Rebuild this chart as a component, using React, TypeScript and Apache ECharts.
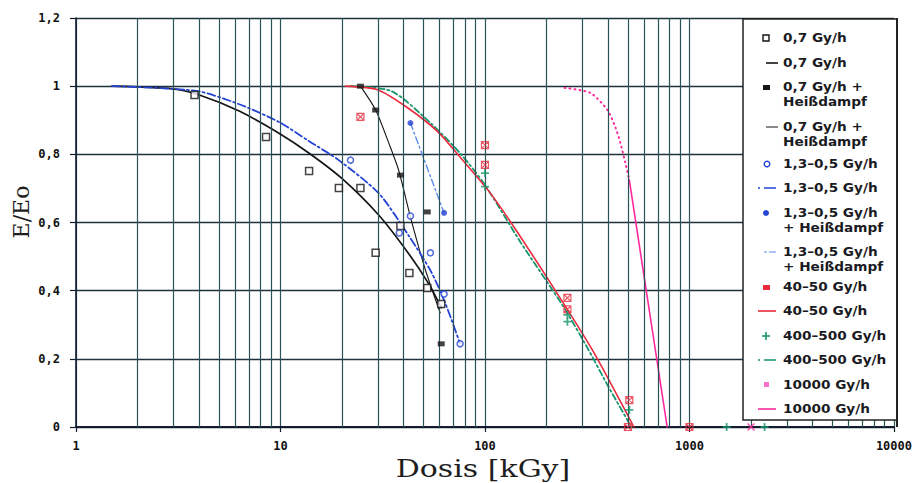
import React, { useEffect, useRef } from 'react';
import * as echarts from 'echarts';

// ---- tick labels ----
const decadeLabels = ['1', '10', '100', '1000', '10000'];
const yTickLabels = ['0', '0,2', '0,4', '0,6', '0,8', '1', '1,2'];

// ---- data: [dose kGy, E/Eo] ----
const rate07Points = [[3.8, 0.974], [8.5, 0.851], [13.8, 0.751], [19.3, 0.701], [24.6, 0.701], [29.2, 0.511], [38.6, 0.59], [42.7, 0.452], [52.2, 0.408], [61.1, 0.361]];
const rate07Fit = [[1.5, 1], [2.97, 0.992], [4.01, 0.974], [6.28, 0.927], [9.83, 0.862], [13.76, 0.804], [19.9, 0.73], [30.2, 0.622], [42.2, 0.51], [52.8, 0.422], [61.1, 0.35]];
const rate07SteamPoints = [[24.6, 1], [29.2, 0.93], [38.6, 0.739], [52.2, 0.631], [61.1, 0.244]];
const rate07SteamFit = [[24.6, 1], [29.2, 0.93], [34, 0.83], [37.8, 0.754], [43.6, 0.607], [51.2, 0.46], [60.4, 0.335]];
const rate13Points = [[22, 0.783], [38.1, 0.569], [43.2, 0.619], [54.1, 0.511], [63.1, 0.39], [75.6, 0.244]];
const rate13Fit = [[1.5, 1], [3.88, 0.986], [6.28, 0.947], [9.83, 0.895], [13.76, 0.839], [19.26, 0.783], [30.2, 0.686], [42.2, 0.563], [54.6, 0.455], [63.9, 0.364], [75.6, 0.244]];
const rate13SteamPoints = [[43.2, 0.892], [63.1, 0.628]];
const rate13SteamFit = [[43.2, 0.892], [63.1, 0.628]];
const rate40Points = [[24.6, 0.91], [100, 0.827], [100, 0.769], [253, 0.379], [253, 0.345], [508, 0.079], [500, 0], [1000, 0]];
const rate40Fit = [[20.8, 1], [30, 0.989], [42, 0.936], [58.9, 0.866], [75.5, 0.792], [103.5, 0.695], [134, 0.6], [221, 0.4], [335, 0.226], [535, 0]];
const rate400Points = [[100, 0.745], [100, 0.705], [253, 0.329], [253, 0.309], [508, 0.05], [1520, 0], [2330, 0]];
const rate400Fit = [[22, 1], [35, 0.985], [54.6, 0.89], [76.4, 0.8], [100, 0.71], [150, 0.54], [239, 0.358], [317, 0.232], [400, 0.12], [520, 0]];
const rate10000Points = [[2000, 0]];
const rate10000Curve = [[245, 0.995], [328, 0.98], [397, 0.93], [434, 0.88], [458, 0.836], [486, 0.775], [508, 0.725]];
const rate10000Fit = [[508, 0.725], [778, 0]];

const BLACK = '#151515';
const BLUE = '#2444d4';
const LIGHTBLUE = '#5b8ee8';
const RED = '#ea2a3c';
const GREEN = '#17946c';
const PINK = '#ff2a9e';
const VGRID = '#2a5356';
const HGRID = '#1c303e';

const boxX = 'path://M0,0L8,0L8,8L0,8Z M0,0L8,8 M8,0L0,8';
const plusPath = 'path://M4,0L4,8 M0,4L8,4';
const crossPath = 'path://M0,0L8,8 M8,0L0,8';

export default function App() {
  const ref = useRef<HTMLDivElement>(null);
  useEffect(() => {
    document.body.style.margin = '0';
    const chart = echarts.init(ref.current!, null, { renderer: 'svg' });

    const minorXs: number[] = [];
    [1, 10, 100, 1000].forEach((d) => {
      for (let k = 2; k <= 9; k++) minorXs.push(k * d);
    });

    const tickFont = { fontFamily: '"DejaVu Sans Mono", monospace', fontWeight: 'bold' as const, fontSize: 12, color: '#111' };

    const legendRows: { y: number; lines: string[]; icon: any[] }[] = [
      { y: 38, lines: ['0,7 Gy/h'], icon: [{ type: 'rect', shape: { x: 763, y: 35, width: 6, height: 6 }, style: { fill: '#fff', stroke: BLACK, lineWidth: 1.4 } }] },
      { y: 63, lines: ['0,7 Gy/h'], icon: [{ type: 'line', shape: { x1: 766, y1: 63, x2: 778, y2: 63 }, style: { stroke: BLACK, lineWidth: 1.6 } }] },
      { y: 87, lines: ['0,7 Gy/h +', 'Heißdampf'], icon: [{ type: 'rect', shape: { x: 763, y: 85, width: 7, height: 5 }, style: { fill: BLACK } }] },
      { y: 127, lines: ['0,7 Gy/h +', 'Heißdampf'], icon: [{ type: 'line', shape: { x1: 766, y1: 127, x2: 778, y2: 127 }, style: { stroke: BLACK, lineWidth: 1 } }] },
      { y: 164, lines: ['1,3–0,5 Gy/h'], icon: [{ type: 'circle', shape: { cx: 767, cy: 164, r: 2.8 }, style: { fill: '#fff', stroke: BLUE, lineWidth: 1.4 } }] },
      { y: 188, lines: ['1,3–0,5 Gy/h'], icon: [{ type: 'line', shape: { x1: 758, y1: 188, x2: 776, y2: 188 }, style: { stroke: BLUE, lineWidth: 1.6, lineDash: [2, 4, 12, 2] } }] },
      { y: 213, lines: ['1,3–0,5 Gy/h', '+ Heißdampf'], icon: [{ type: 'circle', shape: { cx: 766, cy: 213, r: 3 }, style: { fill: BLUE } }] },
      { y: 252, lines: ['1,3–0,5 Gy/h', '+ Heißdampf'], icon: [{ type: 'line', shape: { x1: 764, y1: 252, x2: 776, y2: 252 }, style: { stroke: LIGHTBLUE, lineWidth: 1.2, lineDash: [3, 2, 7, 2] } }] },
      { y: 287, lines: ['40–50 Gy/h'], icon: [{ type: 'rect', shape: { x: 763, y: 285, width: 7, height: 5 }, style: { fill: RED } }] },
      { y: 311, lines: ['40–50 Gy/h'], icon: [{ type: 'line', shape: { x1: 758, y1: 311, x2: 776, y2: 311 }, style: { stroke: RED, lineWidth: 1.6 } }] },
      { y: 336, lines: ['400–500 Gy/h'], icon: [
        { type: 'line', shape: { x1: 766, y1: 332, x2: 766, y2: 340 }, style: { stroke: GREEN, lineWidth: 1.6 } },
        { type: 'line', shape: { x1: 762, y1: 336, x2: 770, y2: 336 }, style: { stroke: GREEN, lineWidth: 1.6 } },
      ] },
      { y: 360, lines: ['400–500 Gy/h'], icon: [{ type: 'line', shape: { x1: 758, y1: 360, x2: 776, y2: 360 }, style: { stroke: GREEN, lineWidth: 1.6, lineDash: [2, 4, 12, 2] } }] },
      { y: 385, lines: ['10000 Gy/h'], icon: [{ type: 'rect', shape: { x: 764, y: 382, width: 5, height: 5 }, style: { fill: '#ff70c8' } }] },
      { y: 409, lines: ['10000 Gy/h'], icon: [{ type: 'line', shape: { x1: 758, y1: 409, x2: 776, y2: 409 }, style: { stroke: PINK, lineWidth: 1.6 } }] },
    ];

    const graphics: any[] = [
      { type: 'rect', z: 100, shape: { x: 743, y: 19, width: 154, height: 401 }, style: { fill: '#fff', stroke: '#222', lineWidth: 1.5 } },
      { type: 'line', z: 101, shape: { x1: 897, y1: 18, x2: 897, y2: 427 }, style: { stroke: '#222', lineWidth: 2 } },
    ];
    legendRows.forEach((row) => {
      row.icon.forEach((ic) => graphics.push({ ...ic, z: 102 }));
      row.lines.forEach((t, i) => {
        graphics.push({
          type: 'text', z: 102, x: 783, y: row.y + i * 15, scaleX: 1.05,
          style: { text: t, x: 0, y: 0, fill: '#1a1a22', font: 'bold 13px "DejaVu Sans", sans-serif', textAlign: 'left', textVerticalAlign: 'middle', verticalAlign: 'middle' },
        });
      });
    });
    graphics.push({
      type: 'text', z: 102, x: 483, y: 468, scaleX: 1.2,
      style: { text: 'Dosis [kGy]', x: 0, y: 0, fill: '#1e1e1e', font: '25px "DejaVu Serif", serif', textAlign: 'center', textVerticalAlign: 'middle', verticalAlign: 'middle' },
    });
    graphics.push({
      type: 'text', z: 102, x: 21, y: 212, rotation: Math.PI / 2,
      style: { text: 'E/Eo', x: 0, y: 0, fill: '#1e1e1e', font: '22px "DejaVu Serif", serif', textAlign: 'center', textVerticalAlign: 'middle', verticalAlign: 'middle' },
    });

    const lineS = (name: string, data: number[][], color: string, width: number, type: any, z = 3, smooth: any = 0.25) => ({
      name, type: 'line', data, smooth, showSymbol: false, symbol: 'none', z,
      lineStyle: { color, width, type, cap: 'round' },
    });

    chart.setOption({
      animation: false,
      backgroundColor: '#fff',
      grid: { left: 76, right: 17, top: 18, bottom: 56 },
      xAxis: {
        type: 'log', logBase: 10, min: 1, max: 10000,
        axisLine: { show: true, lineStyle: { color: '#141c30', width: 2 } },
        axisTick: { show: true, length: 5, lineStyle: { color: '#141c30', width: 1.2 } },
        splitLine: { show: true, lineStyle: { color: VGRID, width: 1.2 } },
        axisLabel: { ...tickFont, margin: 13, showMaxLabel: true, showMinLabel: true, formatter: (v: number) => decadeLabels[Math.round(Math.log10(v))] },
      },
      yAxis: {
        type: 'value', min: 0, max: 1.2, interval: 0.2,
        axisLine: { show: true, lineStyle: { color: '#141c30', width: 1.6 } },
        axisTick: { show: true, length: 6, lineStyle: { color: '#141c30', width: 1.2 } },
        splitLine: { show: true, lineStyle: { color: HGRID, width: 1.4 } },
        axisLabel: { ...tickFont, margin: 16, formatter: (v: number) => yTickLabels[Math.round(v / 0.2)] },
      },
      series: [
        {
          name: 'grid', type: 'line', data: [[1, 0]], showSymbol: false, symbol: 'none', silent: true, z: 1,
          lineStyle: { width: 0 },
          markLine: {
            silent: true, symbol: ['none', 'none'], label: { show: false }, animation: false,
            lineStyle: { color: VGRID, width: 1.2, type: 'solid' },
            emphasis: { disabled: true },
            data: minorXs.map((v) => ({ xAxis: v })),
          },
        },
        lineS('0,7 Gy/h', rate07Fit, BLACK, 1.7, 'solid'),
        lineS('0,7 Gy/h + Heißdampf', rate07SteamFit, BLACK, 1.1, 'solid'),
        lineS('1,3–0,5 Gy/h', rate13Fit, BLUE, 1.8, [8, 3, 2, 3]),
        lineS('1,3–0,5 Gy/h + Heißdampf', rate13SteamFit, LIGHTBLUE, 1.4, [7, 3, 2, 3]),
        lineS('400–500 Gy/h', rate400Fit, GREEN, 1.8, [6, 3, 2, 3]),
        lineS('40–50 Gy/h', rate40Fit, RED, 1.6, 'solid', 4),
        lineS('10000 Gy/h curve', rate10000Curve, PINK, 2, [1, 4], 4),
        lineS('10000 Gy/h', rate10000Fit, PINK, 1.6, 'solid', 4, false),
        { name: '0,7 Gy/h pts', type: 'scatter', data: rate07Points, symbol: 'rect', symbolSize: 7, z: 6, itemStyle: { color: '#fff', borderColor: BLACK, borderWidth: 1.5 } },
        { name: '0,7 Gy/h + Heißdampf pts', type: 'scatter', data: rate07SteamPoints, symbol: 'rect', symbolSize: [7, 5], z: 6, itemStyle: { color: BLACK } },
        { name: '1,3–0,5 Gy/h pts', type: 'scatter', data: rate13Points, symbol: 'circle', symbolSize: 6, z: 6, itemStyle: { color: '#fff', borderColor: BLUE, borderWidth: 1.5 } },
        { name: '1,3–0,5 Gy/h + Heißdampf pts', type: 'scatter', data: rate13SteamPoints, symbol: 'circle', symbolSize: 6, z: 6, itemStyle: { color: BLUE } },
        { name: '40–50 Gy/h pts', type: 'scatter', data: rate40Points, symbol: boxX, symbolSize: 7, z: 6, itemStyle: { color: 'transparent', borderColor: RED, borderWidth: 1.2 } },
        { name: '400–500 Gy/h pts', type: 'scatter', data: rate400Points, symbol: plusPath, symbolSize: 8, z: 6, itemStyle: { color: 'transparent', borderColor: GREEN, borderWidth: 1.8 } },
        { name: '10000 Gy/h pts', type: 'scatter', data: rate10000Points, symbol: crossPath, symbolSize: 7, z: 6, itemStyle: { color: 'transparent', borderColor: PINK, borderWidth: 1.5 } },
      ],
      graphic: graphics,
    });
    return () => chart.dispose();
  }, []);
  return <div ref={ref} style={{ width: 915, height: 483 }} />;
}
